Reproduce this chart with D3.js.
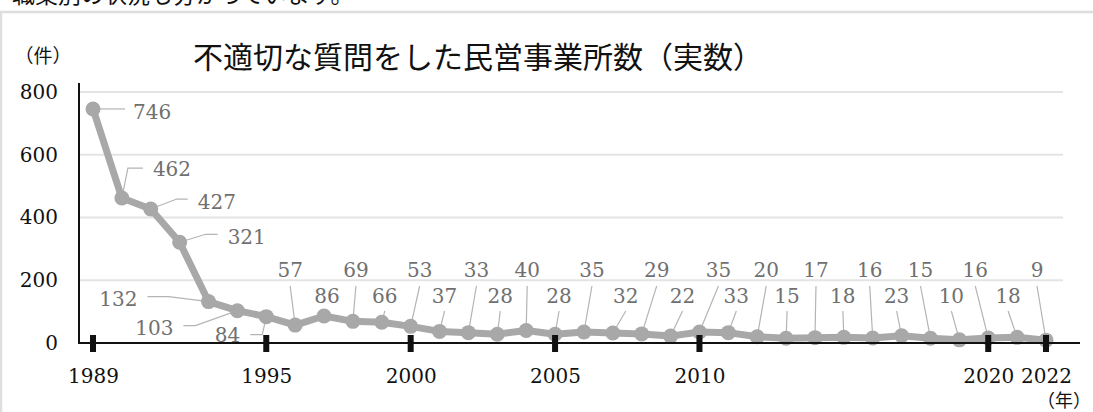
<!DOCTYPE html>
<html>
<head>
<meta charset="utf-8">
<title>不適切な質問をした民営事業所数</title>
<script src="https://d3js.org/d3.v7.min.js"></script>
<style>
  body { margin: 0; background: #fff; }
  svg { display: block; }
</style>
</head>
<body>
<div id="chart"></div>
<script>
// data
const years = [1989, 1990, 1991, 1992, 1993, 1994, 1995, 1996, 1997, 1998,
               1999, 2000, 2001, 2002, 2003, 2004, 2005, 2006, 2007, 2008,
               2009, 2010, 2011, 2012, 2013, 2014, 2015, 2016, 2017, 2018,
               2019, 2020, 2021, 2022];
const counts = [746, 462, 427, 321, 132, 103, 84, 57, 86, 69,
                66, 53, 37, 33, 28, 40, 28, 35, 32, 29,
                22, 35, 33, 20, 15, 17, 18, 16, 23, 15,
                10, 16, 18, 9];
const tickYears = [1989, 1995, 2000, 2005, 2010, 2020, 2022];
const yTicks = [0, 200, 400, 600, 800];
const title = "不適切な質問をした民営事業所数（実数）";

// label placement for the first years (offsets from the dot)
const earlyLabels = {
  1989: { dx: 40, dy: 10, anchor: "start", leader: [[0, 0], [32, 0]] },
  1990: { dx: 31, dy: -22, anchor: "start", leader: [[0, 0], [6, -30], [21, -30]] },
  1991: { dx: 47, dy: 0, anchor: "start", leader: [[0, 0], [26, -10], [37, -10]] },
  1992: { dx: 48, dy: 2, anchor: "start", leader: [[0, 0], [26, -8], [38, -8]] },
  1993: { dx: -71, dy: 4, anchor: "end", leader: [[0, 0], [-40, -5], [-61, -5]] },
  1994: { dx: -64, dy: 24, anchor: "end", leader: [[0, 0], [-42, 15], [-54, 15]] },
  1995: { dx: -26, dy: 25, anchor: "end", leader: [[0, 0], [-4, 18], [-16, 18]] }
};
// horizontal shift of the alternating labels from 1996 on
const labelShift = [-5, 3, 3, 3, 9, 5, 8, 3, 1, 4, 8, 13, 15, 12, 19, 8, 9, 1, 1, -1,
                    -3, -5, -10, -8, -13, -9, -9];

const w = 1093, h = 412;
const svg = d3.select("#chart").append("svg")
  .attr("width", w).attr("height", h);

const x = d3.scaleLinear().domain([1989, 2022]).range([93, 1046]);
const y = d3.scaleLinear().domain([0, 800]).range([343, 92]);

const serif = "'DejaVu Serif', serif";
const sans = "'Noto Sans CJK JP', 'Noto Sans', sans-serif";

// cut-off text line at the top and frame
svg.append("text")
  .attr("x", 12).attr("y", 3)
  .attr("font-family", sans).attr("font-size", 23)
  .attr("fill", "#111")
  .text("職業別の状況も分かっています。");
svg.append("path")
  .attr("d", `M1,${h} V12 H${w}`)
  .attr("fill", "none").attr("stroke", "#dedede").attr("stroke-width", 2.5);

// title
svg.append("text")
  .attr("x", 478).attr("y", 68)
  .attr("text-anchor", "middle")
  .attr("font-family", sans).attr("font-size", 30)
  .attr("fill", "#111")
  .text(title);

svg.append("text")
  .attr("x", 43).attr("y", 63)
  .attr("text-anchor", "middle")
  .attr("font-family", sans).attr("font-size", 19)
  .attr("fill", "#111")
  .text("（件）");

// gridlines
svg.append("g").selectAll("line")
  .data(yTicks.filter(d => d > 0))
  .join("line")
  .attr("x1", 80).attr("x2", 1063)
  .attr("y1", d => y(d)).attr("y2", d => y(d))
  .attr("stroke", "#e4e4e4").attr("stroke-width", 2);

// y axis labels
const yAxis = svg.append("g")
  .attr("transform", "translate(79,0)")
  .call(d3.axisLeft(y).tickValues(yTicks).tickSize(0).tickPadding(21));
yAxis.select(".domain").remove();
yAxis.selectAll("text")
  .attr("font-family", serif).attr("font-size", 20).attr("fill", "#111");

// leader lines
const pts = years.map((yr, i) => ({ year: yr, value: counts[i], i: i }));
const lineGen = d3.line();
const leaders = svg.append("g")
  .attr("fill", "none").attr("stroke", "#b4b4b4").attr("stroke-width", 1.2);

pts.forEach(p => {
  const cx = x(p.year), cy = y(p.value);
  const e = earlyLabels[p.year];
  if (e) {
    leaders.append("path")
      .attr("d", lineGen(e.leader.map(q => [cx + q[0], cy + q[1]])));
    p.lx = cx + e.dx; p.ly = cy + e.dy; p.anchor = e.anchor;
  } else {
    const k = p.year - 1996;
    const upper = k % 2 === 0;
    p.lx = cx + labelShift[k];
    p.ly = upper ? 277 : 303;
    p.anchor = "middle";
    leaders.append("line")
      .attr("x1", p.lx).attr("y1", upper ? 286 : 311)
      .attr("x2", cx).attr("y2", cy);
  }
});

// series
svg.append("path")
  .datum(pts)
  .attr("fill", "none")
  .attr("stroke", "#a8a8a8")
  .attr("stroke-width", 7)
  .attr("stroke-linejoin", "round")
  .attr("d", d3.line().x(d => x(d.year)).y(d => y(d.value)));

svg.append("g").selectAll("circle")
  .data(pts)
  .join("circle")
  .attr("cx", d => x(d.year))
  .attr("cy", d => y(d.value))
  .attr("r", 7.5)
  .attr("fill", "#a8a8a8");

// axes lines
svg.append("line")
  .attr("x1", 79).attr("x2", 79).attr("y1", 83).attr("y2", 344)
  .attr("stroke", "#111").attr("stroke-width", 2);
svg.append("line")
  .attr("x1", 78).attr("x2", 1080).attr("y1", 343).attr("y2", 343)
  .attr("stroke", "#111").attr("stroke-width", 2);

svg.append("g").selectAll("rect")
  .data(tickYears)
  .join("rect")
  .attr("x", d => x(d) - 3).attr("y", 335)
  .attr("width", 6).attr("height", 17)
  .attr("fill", "#111");

const xAxis = svg.append("g")
  .attr("transform", "translate(0,343)")
  .call(d3.axisBottom(x).tickValues(tickYears).tickFormat(d3.format("d"))
        .tickSize(0).tickPadding(26));
xAxis.select(".domain").remove();
xAxis.selectAll("text")
  .attr("font-family", serif).attr("font-size", 20).attr("fill", "#111");

svg.append("text")
  .attr("x", 1064).attr("y", 407)
  .attr("text-anchor", "middle")
  .attr("font-family", sans).attr("font-size", 18)
  .attr("fill", "#111")
  .text("（年）");

// value labels
svg.append("g").selectAll("text")
  .data(pts)
  .join("text")
  .attr("x", d => d.lx)
  .attr("y", d => d.ly)
  .attr("text-anchor", d => d.anchor)
  .attr("font-family", serif)
  .attr("font-size", 20)
  .attr("fill", "#707070")
  .text(d => d.value);
</script>
</body>
</html>
